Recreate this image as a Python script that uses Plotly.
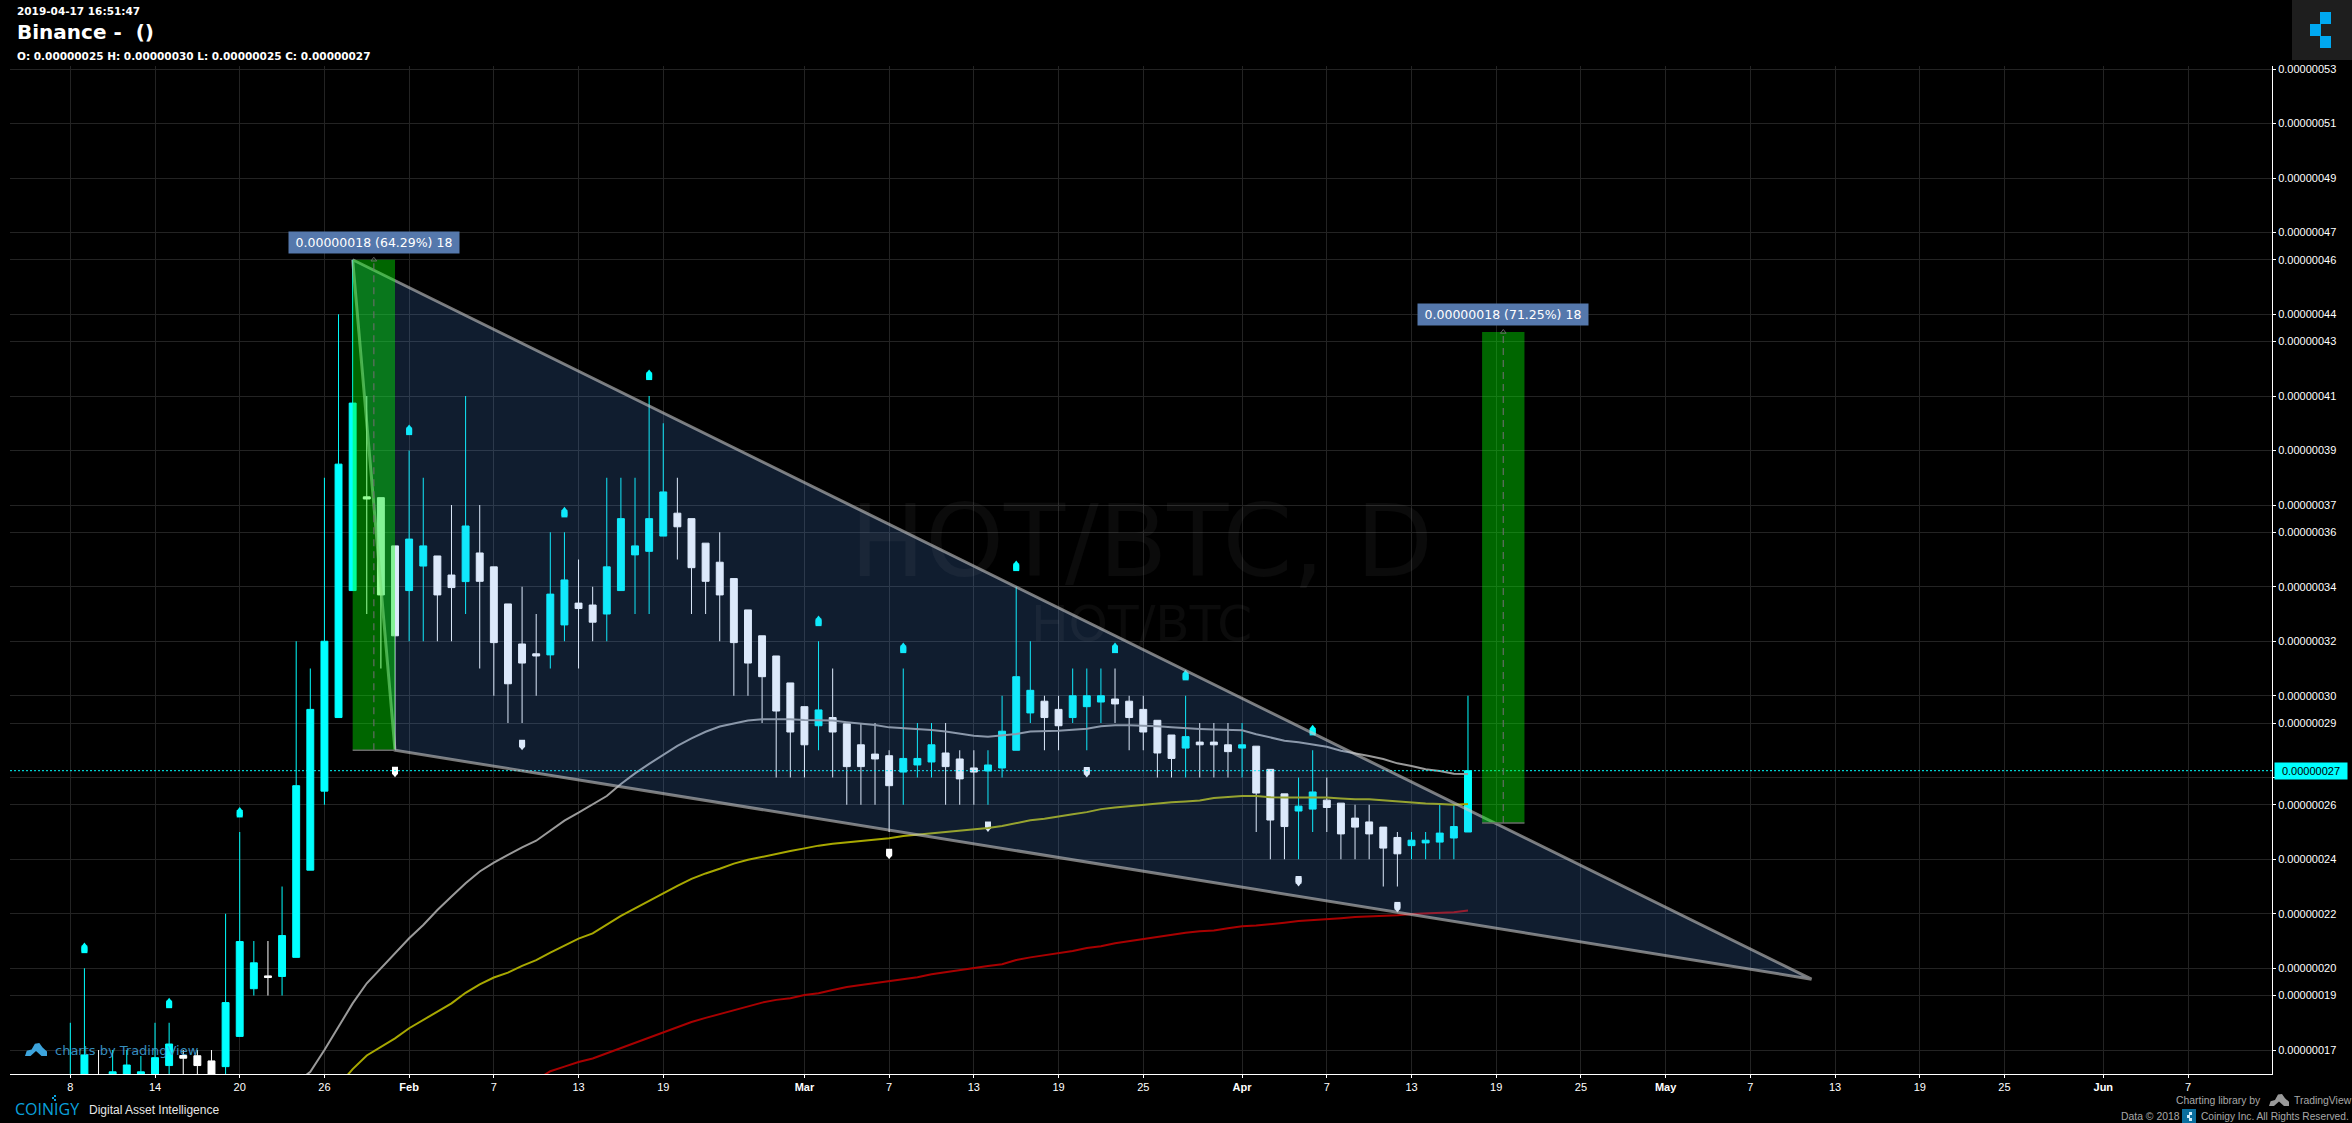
import pandas as pd
import plotly.graph_objects as go

# ---- data (prices in units of 0.00000001 BTC) ----
dates = pd.date_range("2019-01-08", "2019-04-17", freq="D").strftime("%Y-%m-%d").tolist()
opens = [15.6,15.8,16.0,16.1,16.0,16.1,16.0,16.43,16.8,16.79,16.6,16.39,17.5,19.25,19.72,19.7,20.4,23.6,26.5,29.2,33.86,37.3,37.27,35.5,
         33.86,34.76,35.13,34.43,34.19,35.24,34.73,33.37,31.9,31.54,31.5,32.6,33.4,33.33,33.0,33.86,35.17,35.3,35.86,36.7,36.5,35.6,34.9,34.3,33.15,32.2,31.46,30.47,
         29.6,28.9,29.2,28.97,28.2,27.86,27.8,27.2,27.46,27.57,27.9,27.68,27.35,27.24,27.35,28.0,29.37,29.8,29.5,29.2,29.6,29.77,29.88,29.8,
         29.5,29.1,28.56,28.08,28.3,28.3,28.2,28.08,28.15,27.3,26.4,25.77,25.84,26.17,26.06,25.51,25.37,25.18,24.8,24.5,24.6,24.63,24.78,25.0]
highs = [18,20,17,17,17,16.78,18,18,17,17,17,22,25,21,21,23,32,31,38,44,46,41,37.27,35.5,
         39,38,35.13,37,41,37,34.73,33.37,34,33,36,36,35,34,38,38,38,41,40,38,36.5,35.6,36,34.3,33.15,32.2,31.46,30.47,
         29.6,32,31,28.97,29,29,28,31,29,29,29,28,28,28,30,34,32,30,30,31,31,31,31,30,
         30,29.1,28.56,30,29,29,29,29,28.15,27.3,26.4,27,28,27,26.06,26,26,25.18,25,25,25,26,26,30]
lows = [15.5,15.5,15.5,15.8,15.8,15.8,15.8,16,16,16,16,16,17.5,19,19,19,20.4,23.6,26,29.2,33.86,33,31,28,
        32,32,32,32,33,31,30,29,29,30,31,32,31,32,32,33.86,33,33,35.86,35,33,33,32,30,30,29,27,27,
        27,28,27,26,26,26,25,26,27,27,26,26,26,26,27,28,29,28,28,29,28,29,29,28,
        28,27,27,27,27,27,27,27,25,24,24,24,25,25,24,24,24,23,23,24,24,24,24,25]
closes = [16.0,16.82,15.8,16.2,16.45,16.2,16.72,17.22,16.7,16.43,16.1,18.74,20.98,20.2,19.66,21.2,26.7,29.5,32.0,38.5,40.74,37.22,33.7,32.2,
          35.75,35.5,33.7,33.97,36.23,34.2,31.95,30.44,31.2,31.46,33.73,34.25,33.2,32.7,34.73,36.5,35.5,36.5,37.48,36.2,34.7,34.2,33.7,31.95,31.2,30.7,29.44,28.67,
          28.2,29.48,28.67,27.4,27.4,27.68,26.7,27.7,27.7,28.2,27.4,26.95,27.2,27.46,28.7,30.7,30.2,29.2,28.9,30.0,30.0,30.0,29.7,29.2,
          28.67,27.9,27.7,28.5,28.2,28.2,27.95,28.2,26.43,25.44,25.2,25.95,26.47,25.9,24.93,25.18,24.93,24.41,24.2,24.7,24.7,24.96,25.2,27.25]

up_marker_dates = ["2019-01-09","2019-01-15","2019-01-20","2019-02-01","2019-02-12","2019-02-18","2019-03-02","2019-03-08","2019-03-16","2019-03-23","2019-03-28","2019-04-06"]
up_marker_vals = [20.74,18.72,25.72,39.75,36.73,41.77,32.74,31.75,34.76,31.75,30.75,28.73]
down_marker_dates = ["2019-01-31","2019-02-09","2019-03-07","2019-03-14","2019-03-21","2019-04-05","2019-04-12"]
down_marker_vals = [27.21,28.2,24.2,25.2,27.2,23.2,22.25]

ma_gray_dates = pd.date_range("2019-01-24", "2019-04-17", freq="D").strftime("%Y-%m-%d").tolist()
ma_gray = [15.8,16.2,17.0,17.86,18.71,19.45,20.0,20.52,21.1,21.59,22.14,22.63,23.12,23.55,23.88,24.16,24.44,24.68,25.05,25.42,25.71,26.0,26.32,26.76,
           27.15,27.5,27.83,28.16,28.44,28.68,28.87,28.99,29.09,29.14,29.14,29.14,29.11,29.1,29.09,29.03,28.99,28.93,28.84,28.81,28.78,28.74,28.69,28.61,
           28.53,28.5,28.56,28.6,28.69,28.7,28.72,28.75,28.79,28.88,28.92,28.92,28.91,28.88,28.84,28.8,28.78,28.76,28.74,28.73,28.59,28.47,28.35,28.29,28.2,28.13,
           27.98,27.89,27.79,27.68,27.52,27.42,27.3,27.24,27.14,27.13]
ma_yellow_dates = pd.date_range("2019-01-27", "2019-04-17", freq="D").strftime("%Y-%m-%d").tolist()
ma_yellow = [15.7,16.3,16.8,17.1,17.43,17.8,18.1,18.43,18.71,19.1,19.41,19.66,19.84,20.09,20.3,20.57,20.83,21.09,21.28,21.61,21.92,22.2,22.48,22.75,23.02,23.28,23.48,23.65,23.84,23.98,24.09,24.21,24.3,
             24.4,24.5,24.57,24.62,24.66,24.72,24.77,24.85,24.9,24.95,24.99,25.03,25.1,25.15,25.22,25.33,25.43,25.49,25.56,25.65,25.73,25.84,25.9,25.95,
             26.01,26.05,26.09,26.12,26.16,26.25,26.28,26.32,26.32,26.28,26.27,26.27,26.27,26.27,26.23,26.2,26.2,26.16,26.11,26.09,26.05,26.03,26.0,26.03]
ma_red_dates = pd.date_range("2019-02-10", "2019-04-17", freq="D").strftime("%Y-%m-%d").tolist()
ma_red = [15.9,16.22,16.39,16.56,16.69,16.88,17.08,17.27,17.47,17.65,17.86,18.03,18.18,18.32,18.47,18.59,18.74,18.84,18.9,
          19.02,19.08,19.2,19.31,19.39,19.46,19.52,19.59,19.67,19.78,19.86,19.94,20.0,20.08,20.15,20.3,20.4,20.48,20.56,20.63,20.74,20.81,20.92,21.0,
          21.06,21.14,21.23,21.3,21.36,21.39,21.47,21.54,21.57,21.61,21.67,21.73,21.76,21.79,21.84,21.88,21.9,21.91,21.95,21.99,22.01,22.02,22.06,22.12]

wedge_dates = ["2019-01-28","2019-05-11 08:00","2019-01-31","2019-01-28"]
wedge_vals = [46,19.6,28,46]
left_box_dates = ["2019-01-28","2019-01-31"]
left_box_vals = [28,46]
right_box_dates = ["2019-04-18","2019-04-21"]
right_box_vals = [25.33,43.35]
last_price = 27.25

ytick_vals = [53,51,49,47,46,44,43,41,39,37,36,34,32,30,29,27,26,24,22,20,19,17]
ytick_text = ["" if v == 27 else f"0.000000{v}" for v in ytick_vals]
xtick_vals = ["2019-01-08","2019-01-14","2019-01-20","2019-01-26","2019-02-01","2019-02-07","2019-02-13","2019-02-19","2019-03-01","2019-03-07","2019-03-13","2019-03-19","2019-03-25","2019-04-01","2019-04-07","2019-04-13","2019-04-19","2019-04-25","2019-05-01","2019-05-07","2019-05-13","2019-05-19","2019-05-25","2019-06-01","2019-06-07"]
xtick_text = ["8","14","20","26","<b>Feb</b>","7","13","19","<b>Mar</b>","7","13","19","25","<b>Apr</b>","7","13","19","25","<b>May</b>","7","13","19","25","<b>Jun</b>","7"]

# ---- layout geometry ----
W, H = 2352, 1123
L, R, T, B = 10, 2272, 66, 1074
DAY_PX = 14.118
base = pd.Timestamp("2019-01-08")
x_lo = base + pd.Timedelta(days=(L - 70.3) / DAY_PX)
x_hi = base + pd.Timedelta(days=(R - 70.3) / DAY_PX)
y_lo, y_hi = 16.12, 53.11

def px(x):
    return (x - L) / (R - L)
def py(y):
    return (B - y) / (B - T)

fig = go.Figure()
fig.add_trace(go.Candlestick(
    x=dates, open=opens, high=highs, low=lows, close=closes, whiskerwidth=0,
    increasing=dict(line=dict(color="#00FFFF", width=1), fillcolor="#00FFFF"),
    decreasing=dict(line=dict(color="#FFFFFF", width=1), fillcolor="#FFFFFF"),
))

# pin-bar markers: a small block with a point
def pin(mdates, vals, color, sign):
    for off in (-0.075, -0.02):
        fig.add_trace(go.Scatter(x=mdates, y=[v + sign * off for v in vals], mode="markers",
                                 marker=dict(symbol="square", size=6, color=color, line=dict(width=0))))
    fig.add_trace(go.Scatter(x=mdates, y=[v + sign * 0.11 for v in vals], mode="markers",
                             marker=dict(symbol="triangle-up" if sign > 0 else "triangle-down", size=5, color=color, line=dict(width=0))))
pin(up_marker_dates, up_marker_vals, "#00FFFF", 1)
pin(down_marker_dates, down_marker_vals, "#FFFFFF", -1)

for xs, ys, col in [(ma_gray_dates, ma_gray, "#9a9a9a"), (ma_yellow_dates, ma_yellow, "#a8a800"), (ma_red_dates, ma_red, "#a80000")]:
    fig.add_trace(go.Scatter(x=xs, y=ys, mode="lines", line=dict(color=col, width=2, shape="linear")))

fig.add_trace(go.Scatter(x=[x_lo, x_hi], y=[last_price, last_price], mode="lines",
                         line=dict(color="#00FFFF", width=1, dash="2px,2px")))

fig.add_trace(go.Scatter(x=wedge_dates, y=wedge_vals, mode="lines", fill="toself",
                         fillcolor="rgba(82,143,235,0.2)", line=dict(color="rgba(200,200,200,0.6)", width=3)))

for xs, ys in [(left_box_dates, left_box_vals), (right_box_dates, right_box_vals)]:
    fig.add_trace(go.Scatter(x=[xs[0], xs[1], xs[1], xs[0], xs[0]], y=[ys[0], ys[0], ys[1], ys[1], ys[0]],
                             mode="lines", fill="toself", fillcolor="rgba(0,255,0,0.4)", line=dict(width=0)))
    fig.add_trace(go.Scatter(x=xs, y=[ys[0], ys[0]], mode="lines", line=dict(color="#6a6a6a", width=1.5)))
    mid = pd.Timestamp(xs[0]) + (pd.Timestamp(xs[1]) - pd.Timestamp(xs[0])) / 2
    fig.add_trace(go.Scatter(x=[mid, mid], y=ys, mode="lines", line=dict(color="rgba(110,110,110,0.9)", width=1.2, dash="7px,5px")))
    fig.add_trace(go.Scatter(x=[mid], y=[ys[1]], mode="markers",
                             marker=dict(symbol="triangle-up-open", size=5, color="rgba(110,110,110,0.9)", line=dict(width=1, color="rgba(110,110,110,0.9)"))))

def txt(x, y, text, size, color="#ffffff", family="DejaVu Sans", anchor="left", **kw):
    fig.add_annotation(xref="paper", yref="paper", x=px(x), y=py(y), text=text, showarrow=False,
                       xanchor=anchor, yanchor="middle", align="left", borderpad=0,
                       font=dict(size=size, color=color, family=family), **kw)

# watermarks
txt(1141, 541, "HOT/BTC, D", 100, color="rgba(255,255,255,0.045)", anchor="center")
txt(1141, 624, "HOT/BTC", 50, color="rgba(255,255,255,0.045)", anchor="center")

# header
txt(16, 11, "<b>2019-04-17 16:51:47</b>", 10.5)
txt(16, 32, "<b>Binance -  ()</b>", 20)
txt(16, 56, "<b>O: 0.00000025 H: 0.00000030 L: 0.00000025 C: 0.00000027</b>", 10.5)

# measurement labels
for xd, yv, label in [("2019-01-29 12:00", 46.64, "0.00000018 (64.29%) 18"), ("2019-04-19 12:00", 43.98, "0.00000018 (71.25%) 18")]:
    fig.add_annotation(x=xd, y=yv, text=label, showarrow=False, bgcolor="#5578AC", width=170, height=21,
                       font=dict(size=12.5, color="#ffffff", family="DejaVu Sans"), borderpad=0)

# current price tag
fig.add_annotation(xref="paper", x=px(2311), y=last_price, xanchor="center", text="0.00000027", showarrow=False,
                   bgcolor="#00FFFF", width=72, height=16,
                   font=dict(size=11, color="#000000", family="Liberation Sans"), borderpad=0)

# footer
txt(54, 1050, "charts by TradingView", 13, color="rgba(66,170,225,0.85)")
txt(14, 1109, "COINIGY", 16, color="#0AA0DC", family="Open Sans")
txt(88, 1110, "Digital Asset Intelligence", 12, color="#e6e6e6", family="Liberation Sans")
txt(2175, 1100, "Charting library by", 10.4, color="#a8a8a8", family="Liberation Sans")
txt(2293, 1100, "TradingView", 10.4, color="#a8a8a8", family="Liberation Sans")
txt(2120, 1116, "Data © 2018", 10.4, color="#a8a8a8", family="Liberation Sans")
txt(2200, 1116, "Coinigy Inc. All Rights Reserved.", 10.2, color="#a8a8a8", family="Liberation Sans")

def rect(x0, y0, x1, y1, color):
    return dict(type="rect", xref="paper", yref="paper", x0=px(x0), x1=px(x1), y0=py(y0), y1=py(y1),
                fillcolor=color, line=dict(width=0), layer="above")

def path(points, color):
    d = "M " + " L ".join(f"{px(a):.6f},{py(b):.6f}" for a, b in points) + " Z"
    return dict(type="path", xref="paper", yref="paper", path=d, fillcolor=color, line=dict(width=0), layer="above")

def cloud(ox, oy, w, h, color):
    pts = [(0, 1), (.08, .6), (.3, .5), (.45, .05), (.65, 0), (.8, .35), (1, .65), (1, 1), (.75, 1), (.5, .62), (.25, 1)]
    return path([(ox + a * w, oy + b * h) for a, b in pts], color)

shapes = [
    rect(2292, 0, 2352, 60, "#1e1e1e"),
    rect(2320, 12, 2331, 24, "#00A8F0"),
    rect(2310, 24, 2321, 36, "#00A8F0"),
    rect(2320, 36, 2331, 48, "#00A8F0"),
    rect(2182, 1109, 2196, 1123, "#0A6E9E"),
    rect(2189, 1112, 2192, 1115, "#cfefff"),
    rect(2187, 1115, 2190, 1118, "#cfefff"),
    rect(2189, 1118, 2192, 1121, "#cfefff"),
    rect(54, 1095, 56, 1097, "#0AA0DC"),
    rect(52, 1097, 54, 1099, "#0AA0DC"),
    rect(54, 1099, 56, 1101, "#0AA0DC"),
    cloud(25, 1043, 22, 13, "#3DA4DC"),
    cloud(2269, 1094, 20, 12, "#9a9a9a"),
]

fig.update_layout(
    width=W, height=H, margin=dict(l=L, r=W - R, t=T, b=H - B, pad=0),
    paper_bgcolor="#000000", plot_bgcolor="#000000", showlegend=False, shapes=shapes,
    font=dict(family="Liberation Sans", size=11, color="#ffffff"),
    xaxis=dict(type="date", range=[x_lo, x_hi], rangeslider=dict(visible=False), tickmode="array",
               tickvals=xtick_vals, ticktext=xtick_text, showgrid=True, gridcolor="#232323", gridwidth=1,
               showline=True, linecolor="#ffffff", linewidth=1, ticks="outside", ticklen=3, tickcolor="#ffffff",
               tickfont=dict(size=11, color="#ffffff", family="Liberation Sans"), zeroline=False),
    yaxis=dict(range=[y_lo, y_hi], side="right", tickmode="array", tickvals=ytick_vals, ticktext=ytick_text,
               showgrid=True, gridcolor="#232323", gridwidth=1, showline=True, linecolor="#ffffff", linewidth=1,
               ticks="outside", ticklen=3, tickcolor="#ffffff", zeroline=False,
               tickfont=dict(size=11, color="#ffffff", family="Liberation Sans")),
)

fig.write_html("out.html", config={"displayModeBar": False},
               post_script="document.body.style.margin='0';document.body.style.background='#000';")
